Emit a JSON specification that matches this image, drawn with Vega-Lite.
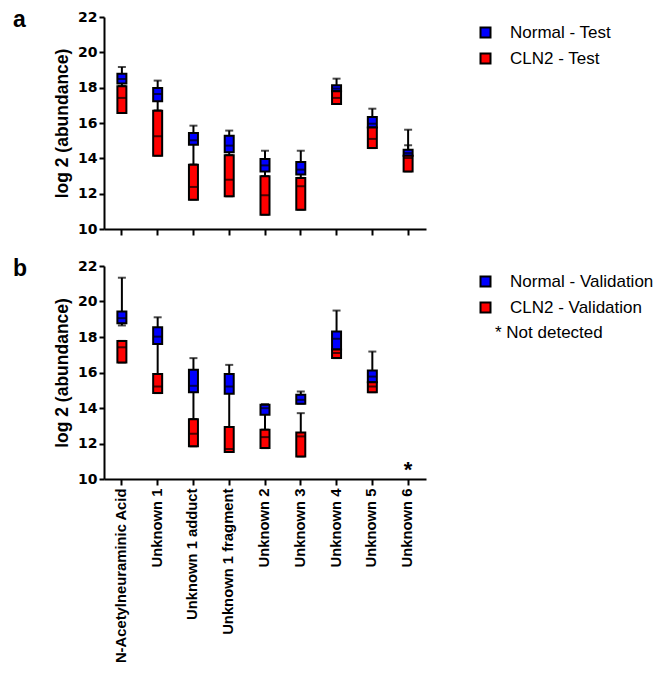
{
  "$schema": "https://vega.github.io/schema/vega-lite/v6.json",
  "padding": {"left": 13, "top": 9, "right": 0, "bottom": 0},
  "datasets": {
    "a": [
      {"cat": "N-Acetylneuraminic Acid", "grp": "Normal - Test", "min": 18.08, "q1": 18.23, "med": 18.49, "q3": 18.79, "max": 19.17},
      {"cat": "Unknown 1", "grp": "Normal - Test", "min": 16.7, "q1": 17.23, "med": 17.64, "q3": 17.98, "max": 18.4},
      {"cat": "Unknown 1 adduct", "grp": "Normal - Test", "min": 13.64, "q1": 14.77, "med": 15.02, "q3": 15.43, "max": 15.85},
      {"cat": "Unknown 1 fragment", "grp": "Normal - Test", "min": 14.17, "q1": 14.34, "med": 14.72, "q3": 15.28, "max": 15.57},
      {"cat": "Unknown 2", "grp": "Normal - Test", "min": 12.98, "q1": 13.26, "med": 13.6, "q3": 13.96, "max": 14.43},
      {"cat": "Unknown 3", "grp": "Normal - Test", "min": 12.89, "q1": 13.08, "med": 13.36, "q3": 13.79, "max": 14.43},
      {"cat": "Unknown 4", "grp": "Normal - Test", "min": 17.8, "q1": 17.8, "med": 17.95, "q3": 18.13, "max": 18.51},
      {"cat": "Unknown 5", "grp": "Normal - Test", "min": 15.75, "q1": 15.75, "med": 15.96, "q3": 16.34, "max": 16.81},
      {"cat": "Unknown 6", "grp": "Normal - Test", "min": 14.15, "q1": 14.15, "med": 14.3, "q3": 14.49, "max": 15.62},
      {"cat": "N-Acetylneuraminic Acid", "grp": "CLN2 - Test", "min": 16.57, "q1": 16.57, "med": 17.42, "q3": 18.08, "max": 18.08},
      {"cat": "Unknown 1", "grp": "CLN2 - Test", "min": 14.15, "q1": 14.15, "med": 15.25, "q3": 16.7, "max": 16.7},
      {"cat": "Unknown 1 adduct", "grp": "CLN2 - Test", "min": 11.66, "q1": 11.66, "med": 12.38, "q3": 13.64, "max": 13.64},
      {"cat": "Unknown 1 fragment", "grp": "CLN2 - Test", "min": 11.85, "q1": 11.85, "med": 12.79, "q3": 14.17, "max": 14.17},
      {"cat": "Unknown 2", "grp": "CLN2 - Test", "min": 10.81, "q1": 10.81, "med": 11.91, "q3": 12.98, "max": 12.98},
      {"cat": "Unknown 3", "grp": "CLN2 - Test", "min": 11.09, "q1": 11.09, "med": 12.42, "q3": 12.89, "max": 12.89},
      {"cat": "Unknown 4", "grp": "CLN2 - Test", "min": 17.08, "q1": 17.08, "med": 17.42, "q3": 17.8, "max": 17.8},
      {"cat": "Unknown 5", "grp": "CLN2 - Test", "min": 14.58, "q1": 14.58, "med": 15.1, "q3": 15.75, "max": 15.75},
      {"cat": "Unknown 6", "grp": "CLN2 - Test", "min": 13.26, "q1": 13.26, "med": 14.02, "q3": 14.15, "max": 14.74}
    ],
    "b": [
      {"cat": "N-Acetylneuraminic Acid", "grp": "Normal - Validation", "min": 18.65, "q1": 18.77, "med": 19.06, "q3": 19.43, "max": 21.34},
      {"cat": "Unknown 1", "grp": "Normal - Validation", "min": 15.91, "q1": 17.61, "med": 18.02, "q3": 18.55, "max": 19.11},
      {"cat": "Unknown 1 adduct", "grp": "Normal - Validation", "min": 13.37, "q1": 14.89, "med": 15.25, "q3": 16.15, "max": 16.81},
      {"cat": "Unknown 1 fragment", "grp": "Normal - Validation", "min": 12.93, "q1": 14.8, "med": 15.21, "q3": 15.91, "max": 16.43},
      {"cat": "Unknown 2", "grp": "Normal - Validation", "min": 12.77, "q1": 13.62, "med": 13.99, "q3": 14.18, "max": 14.22},
      {"cat": "Unknown 3", "grp": "Normal - Validation", "min": 14.24, "q1": 14.24, "med": 14.46, "q3": 14.74, "max": 14.93},
      {"cat": "Unknown 4", "grp": "Normal - Validation", "min": 17.3, "q1": 17.3, "med": 17.9, "q3": 18.31, "max": 19.49},
      {"cat": "Unknown 5", "grp": "Normal - Validation", "min": 15.45, "q1": 15.45, "med": 15.77, "q3": 16.11, "max": 17.18},
      {"cat": "N-Acetylneuraminic Acid", "grp": "CLN2 - Validation", "min": 16.56, "q1": 16.56, "med": 17.42, "q3": 17.78, "max": 17.78},
      {"cat": "Unknown 1", "grp": "CLN2 - Validation", "min": 14.84, "q1": 14.84, "med": 15.21, "q3": 15.91, "max": 15.91},
      {"cat": "Unknown 1 adduct", "grp": "CLN2 - Validation", "min": 11.84, "q1": 11.84, "med": 12.55, "q3": 13.37, "max": 13.37},
      {"cat": "Unknown 1 fragment", "grp": "CLN2 - Validation", "min": 11.52, "q1": 11.52, "med": 11.69, "q3": 12.93, "max": 12.93},
      {"cat": "Unknown 2", "grp": "CLN2 - Validation", "min": 11.74, "q1": 11.74, "med": 12.36, "q3": 12.77, "max": 12.77},
      {"cat": "Unknown 3", "grp": "CLN2 - Validation", "min": 11.27, "q1": 11.27, "med": 12.4, "q3": 12.62, "max": 13.71},
      {"cat": "Unknown 4", "grp": "CLN2 - Validation", "min": 16.81, "q1": 16.81, "med": 17.1, "q3": 17.3, "max": 17.3},
      {"cat": "Unknown 5", "grp": "CLN2 - Validation", "min": 14.89, "q1": 14.89, "med": 15.21, "q3": 15.45, "max": 15.45}
    ],
    "nd": [
      {"cat": "Unknown 6", "v": 10.1, "t": "*"}
    ]
  },
  "spacing": 22,
  "resolve": {"scale": {"color": "independent"}, "legend": {"color": "independent"}},
  "vconcat": [
    {
      "width": 322,
      "height": 212,
      "title": {"text": "a", "anchor": "start", "frame": "group", "dx": -91, "offset": -22, "fontSize": 23, "font": "Liberation Sans", "fontWeight": "bold", "color": "black"},
      "data": {"name": "a"},
      "encoding": {
        "x": {
          "field": "cat", "type": "nominal",
          "scale": {"domain": ["N-Acetylneuraminic Acid", "Unknown 1", "Unknown 1 adduct", "Unknown 1 fragment", "Unknown 2", "Unknown 3", "Unknown 4", "Unknown 5", "Unknown 6"], "paddingInner": 0, "paddingOuter": 0},
          "axis": {"labels": false, "title": null, "tickSize": 6}
        }
      },
      "layer": [
        {
          "mark": {"type": "rule", "color": "black", "strokeWidth": 2},
          "encoding": {
            "y": {"field": "min", "type": "quantitative", "scale": {"domain": [10, 22], "nice": false, "zero": false},
              "axis": {"values": [10, 12, 14, 16, 18, 20, 22], "labelOverlap": false, "labelFont": "DejaVu Sans", "labelFontWeight": "bold", "labelFontSize": 14, "title": "log 2 (abundance)"}},
            "y2": {"field": "max"}
          }
        },
        {
          "mark": {"type": "tick", "color": "black", "size": 8, "thickness": 2, "orient": "horizontal"},
          "encoding": {"y": {"field": "max", "type": "quantitative", "axis": {"values": [10, 12, 14, 16, 18, 20, 22], "labelOverlap": false, "labelFont": "DejaVu Sans", "labelFontWeight": "bold", "labelFontSize": 14, "title": "log 2 (abundance)"}}}
        },
        {
          "mark": {"type": "tick", "color": "black", "size": 8, "thickness": 2, "orient": "horizontal"},
          "encoding": {"y": {"field": "min", "type": "quantitative", "axis": {"values": [10, 12, 14, 16, 18, 20, 22], "labelOverlap": false, "labelFont": "DejaVu Sans", "labelFontWeight": "bold", "labelFontSize": 14, "title": "log 2 (abundance)"}}}
        },
        {
          "mark": {"type": "bar", "size": 9, "stroke": "black", "strokeWidth": 2},
          "encoding": {
            "y": {"field": "q1", "type": "quantitative", "axis": {"values": [10, 12, 14, 16, 18, 20, 22], "labelOverlap": false, "labelFont": "DejaVu Sans", "labelFontWeight": "bold", "labelFontSize": 14, "title": "log 2 (abundance)"}},
            "y2": {"field": "q3"},
            "color": {
              "field": "grp", "type": "nominal",
              "scale": {"domain": ["Normal - Test", "CLN2 - Test"], "range": ["#0000ff", "#ff0000"]},
              "legend": {"orient": "none", "legendX": 373, "legendY": 7, "title": null, "symbolType": "square", "symbolSize": 100, "symbolStrokeColor": "black", "symbolStrokeWidth": 2, "symbolOpacity": 1, "labelFont": "Liberation Sans", "labelFontSize": 17, "labelColor": "black", "labelOffset": 16, "rowPadding": 7, "padding": 0, "labelLimit": 300}
            }
          }
        },
        {
          "mark": {"type": "tick", "color": "black", "size": 9, "thickness": 2, "orient": "horizontal"},
          "encoding": {"y": {"field": "med", "type": "quantitative", "axis": {"values": [10, 12, 14, 16, 18, 20, 22], "labelOverlap": false, "labelFont": "DejaVu Sans", "labelFontWeight": "bold", "labelFontSize": 14, "title": "log 2 (abundance)"}}}
        }
      ]
    },
    {
      "width": 322,
      "height": 213,
      "title": {"text": "b", "anchor": "start", "frame": "group", "dx": -91, "offset": -22, "fontSize": 23, "font": "Liberation Sans", "fontWeight": "bold", "color": "black"},
      "encoding": {
        "x": {
          "field": "cat", "type": "nominal",
          "scale": {"domain": ["N-Acetylneuraminic Acid", "Unknown 1", "Unknown 1 adduct", "Unknown 1 fragment", "Unknown 2", "Unknown 3", "Unknown 4", "Unknown 5", "Unknown 6"], "paddingInner": 0, "paddingOuter": 0},
          "axis": {"title": null, "tickSize": 6, "labelAngle": -90, "labelFont": "Liberation Sans", "labelFontWeight": "bold", "labelFontSize": 14.8, "labelPadding": 3, "labelLimit": 300}
        }
      },
      "layer": [
        {
          "data": {"name": "b"},
          "mark": {"type": "rule", "color": "black", "strokeWidth": 2},
          "encoding": {
            "y": {"field": "min", "type": "quantitative", "scale": {"domain": [10, 22], "nice": false, "zero": false},
              "axis": {"values": [10, 12, 14, 16, 18, 20, 22], "labelOverlap": false, "labelFont": "DejaVu Sans", "labelFontWeight": "bold", "labelFontSize": 14, "title": "log 2 (abundance)"}},
            "y2": {"field": "max"}
          }
        },
        {
          "data": {"name": "b"},
          "mark": {"type": "tick", "color": "black", "size": 8, "thickness": 2, "orient": "horizontal"},
          "encoding": {"y": {"field": "max", "type": "quantitative", "axis": {"values": [10, 12, 14, 16, 18, 20, 22], "labelOverlap": false, "labelFont": "DejaVu Sans", "labelFontWeight": "bold", "labelFontSize": 14, "title": "log 2 (abundance)"}}}
        },
        {
          "data": {"name": "b"},
          "mark": {"type": "tick", "color": "black", "size": 8, "thickness": 2, "orient": "horizontal"},
          "encoding": {"y": {"field": "min", "type": "quantitative", "axis": {"values": [10, 12, 14, 16, 18, 20, 22], "labelOverlap": false, "labelFont": "DejaVu Sans", "labelFontWeight": "bold", "labelFontSize": 14, "title": "log 2 (abundance)"}}}
        },
        {
          "data": {"name": "b"},
          "mark": {"type": "bar", "size": 9, "stroke": "black", "strokeWidth": 2},
          "encoding": {
            "y": {"field": "q1", "type": "quantitative", "axis": {"values": [10, 12, 14, 16, 18, 20, 22], "labelOverlap": false, "labelFont": "DejaVu Sans", "labelFontWeight": "bold", "labelFontSize": 14, "title": "log 2 (abundance)"}},
            "y2": {"field": "q3"},
            "color": {
              "field": "grp", "type": "nominal",
              "scale": {"domain": ["Normal - Validation", "CLN2 - Validation"], "range": ["#0000ff", "#ff0000"]},
              "legend": {"orient": "none", "legendX": 373, "legendY": 7, "title": "* Not detected", "titleOrient": "bottom", "titleAnchor": "start", "titleFont": "Liberation Sans", "titleFontSize": 17, "titleFontWeight": "normal", "titleColor": "black", "titlePadding": 8, "symbolType": "square", "symbolSize": 100, "symbolStrokeColor": "black", "symbolStrokeWidth": 2, "symbolOpacity": 1, "labelFont": "Liberation Sans", "labelFontSize": 17, "labelColor": "black", "labelOffset": 16, "rowPadding": 7, "padding": 0, "labelLimit": 300,
                "encode": {"title": {"update": {"dx": {"value": 18}}}}}
            }
          }
        },
        {
          "data": {"name": "b"},
          "mark": {"type": "tick", "color": "black", "size": 9, "thickness": 2, "orient": "horizontal"},
          "encoding": {"y": {"field": "med", "type": "quantitative", "axis": {"values": [10, 12, 14, 16, 18, 20, 22], "labelOverlap": false, "labelFont": "DejaVu Sans", "labelFontWeight": "bold", "labelFontSize": 14, "title": "log 2 (abundance)"}}}
        },
        {
          "data": {"name": "nd"},
          "mark": {"type": "text", "color": "black", "fontSize": 22, "font": "Liberation Sans", "fontWeight": "bold", "baseline": "alphabetic"},
          "encoding": {"y": {"field": "v", "type": "quantitative", "axis": {"values": [10, 12, 14, 16, 18, 20, 22], "labelOverlap": false, "labelFont": "DejaVu Sans", "labelFontWeight": "bold", "labelFontSize": 14, "title": "log 2 (abundance)"}}, "text": {"field": "t"}}
        }
      ]
    }
  ],
  "config": {
    "view": {"stroke": null},
    "axis": {"grid": false, "domainColor": "black", "domainWidth": 2, "tickColor": "black", "tickWidth": 2, "labelColor": "black", "titleColor": "black"},
    "axisY": {"labelFont": "DejaVu Sans", "labelFontWeight": "bold", "labelFontSize": 14, "tickSize": 5, "labelPadding": 2, "titleFont": "Liberation Sans", "titleFontSize": 17.5, "titleFontWeight": "bold", "titlePadding": 6}
  }
}
